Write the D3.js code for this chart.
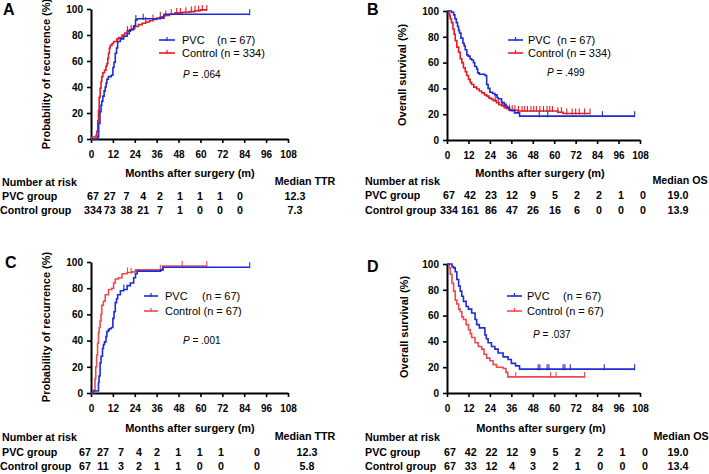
<!DOCTYPE html>
<html>
<head>
<meta charset="utf-8">
<script src="https://cdn.jsdelivr.net/npm/d3@7"></script>
<style>
  html, body { margin: 0; padding: 0; background: #fff; }
  svg { display: block; font-family: "Liberation Sans", Arial, sans-serif; }
</style>
</head>
<body>
<div id="chart"></div>
<script>
const monthTicks = [0, 12, 24, 36, 48, 60, 72, 84, 96, 108];
const pctTicks = [0, 20, 40, 60, 80, 100];

// Kaplan-Meier steps: [month, percent]
const pvcTTR_A = [[0,0],[3.7,1.5],[4.2,12],[4.9,21],[5.5,26],[5.9,29],[6.5,33],[7.2,37],[7.8,40],[8.3,43],[8.7,46],[9.5,48],[11.1,49],[12,55],[12.6,59],[13.3,66],[14,70],[14.6,75],[16.1,77],[17.9,79],[19.8,81],[21,83],[21.6,84],[23.4,87],[24.4,91.5],[25.3,92.5],[38,93],[40,96],[87,96]];
const ctrlTTR_A = [[0,0],[0.4,1.5],[2.8,3],[3.2,6],[3.7,14],[4.1,22],[4.5,32],[5,39],[5.5,44],[5.9,48],[6.5,51],[7.4,53],[8.2,56],[8.7,58],[9.2,62],[9.6,66],[10.1,70],[10.5,72],[11.5,73.5],[12.4,75],[14.2,77],[15.1,78],[17,80],[18.5,81.5],[19.8,83],[21,84],[22.5,85],[24,86.5],[26,88],[28,89],[30,90],[32,91],[34,92],[36,93],[38,94],[40,95],[43,96],[46,97],[50,97.5],[54,98],[57,98.7],[60,99.3],[63.5,99.3]];
const pvcOS_B = [[0,100],[2.5,99],[3.7,97],[4.4,94],[5.2,91],[5.9,88],[6.5,85],[7,83],[7.8,79],[8.9,75],[9.6,73],[10.2,70],[11.1,66],[11.8,65],[12.9,63],[13.8,62],[14.8,60],[15.5,57],[16.6,55],[17.2,52],[18.1,51],[21.2,50],[22.2,43],[23,40],[24,37],[25.5,36],[26.8,35],[28,33],[28.6,32],[30.5,29],[32,27],[33.2,26],[34,25],[35,23],[37.8,21],[40.6,18.5],[105,18.5]];
const ctrlOS_B = [[0,100],[0.9,98],[1.5,96],[1.8,94],[2.5,91],[3.3,86],[4,82],[4.6,77],[5.5,72],[6.5,68],[7.4,63],[8.3,60],[9.2,56],[10.2,53],[11,50],[12,47],[13,44.5],[13.8,43],[15,41],[16.6,39.5],[18,38],[19.4,36.5],[21,35],[22.2,34],[23.5,32.5],[24.9,31.5],[26,30.5],[27.7,29],[29,27.5],[30.5,26.5],[32,25],[33.2,24.5],[34.5,23.5],[36,23],[39.7,22.5],[62,21.5],[65,20.5],[80,20.5]];
const pvcTTR_C = [[0,0],[1.3,1.5],[4.1,8],[4.4,13],[5,23],[5.5,28],[6.3,34],[6.8,37],[7.4,39],[8.2,43],[8.7,47],[9.5,48],[10,49],[11.1,50],[12,57],[12.6,62],[13.3,69],[14,72],[14.6,75],[16.1,78],[17.9,79],[19.8,82],[21.6,84],[23.4,88],[24.4,91],[25.3,93],[38.2,94],[39.5,96],[87,96]];
const ctrlTTR_C = [[0,0],[1.3,2],[2.2,11],[2.6,20],[3.1,29],[3.6,38],[4.1,46],[4.5,50],[5,55],[5.5,60],[5.9,67],[6.8,70],[7.8,75],[9.6,79],[11.4,80],[12.4,84],[13.3,87],[15.1,88],[17,91],[19.8,92],[22.5,92.5],[24.4,94],[38.7,94],[39.2,97],[63.5,97]];
const pvcOS_D = [[0,100],[2.8,98],[3.7,97],[4.6,94],[5.5,88],[6.5,83],[7.4,79],[8.3,75],[9.2,71],[10.7,67],[12,65],[13.8,62],[15.7,57],[16.6,53],[18.1,50.5],[21.2,45],[22,42],[23,39],[24.9,36],[26.8,34],[28.6,31],[31.4,28],[34.2,26],[36,23],[38.4,21],[40.6,18.5],[105,18.5]];
const ctrlOS_D = [[0,100],[1.2,97],[1.8,92],[2.8,85],[3.7,79],[4.6,72],[5.5,69],[6.5,65],[7.4,63],[8.3,59],[9.2,57],[10.7,53],[12,49],[13,46],[13.8,43],[15.7,39],[17.5,36],[19.4,34],[20.7,30],[22.2,27],[24,25],[25.8,22],[27.7,20],[31.4,19],[33,16],[34,12.5],[77,12.5]];

// censored months
const pvcCens_A = [24.6, 28.6, 87];
const ctrlCens_A = [20, 22, 30, 34, 38, 41, 44, 47, 49, 52, 55, 57, 59, 61, 63.5];
const pvcCens_B = [51.6, 56.4, 87, 105];
const ctrlCens_B = [27, 29, 31, 33, 35, 36.5, 38, 40, 42, 43.5, 45, 47, 48.5, 50, 52, 54, 56, 57.5, 59, 62, 64, 67, 70, 72, 74, 77, 80];
const pvcCens_C = [18, 87];
const ctrlCens_C = [20, 22, 38, 50, 63.5];
const pvcCens_D = [51, 52, 56, 57, 65, 66, 69, 88, 105];
const ctrlCens_D = [38.5, 58, 61, 77];

// number at risk
const pvcRisk_A = [67, 27, 7, 4, 2, 1, 1, 1, 0];
const ctrlRisk_A = [334, 73, 38, 21, 7, 1, 0, 0, 0];
const pvcRisk_B = [67, 42, 23, 12, 9, 5, 2, 2, 1, 0];
const ctrlRisk_B = [334, 161, 86, 47, 26, 16, 6, 0, 0, 0];
const pvcRisk_C = [67, 27, 7, 4, 2, 1, 1, 1, 0];
const ctrlRisk_C = [67, 11, 3, 2, 1, 1, 0, 0, 0];
const pvcRisk_D = [67, 42, 22, 12, 9, 5, 2, 2, 1, 0];
const ctrlRisk_D = [67, 33, 12, 4, 3, 2, 1, 0, 0, 0];

const medians = { A: ['12.3', '7.3'], B: ['19.0', '13.9'], C: ['12.3', '5.8'], D: ['19.0', '13.4'] };
const pValues = { A: '.064', B: '.499', C: '.001', D: '.037' };
const ctrlN = { A: 334, B: 334, C: 67, D: 67 };

const BLUE = '#1f2bd3';
const RED_ALL = '#e31c24';
const RED_MATCH = '#ec4a50';
const FONT = '"Liberation Sans", Arial, sans-serif';

const W = 709, H = 474;

const panels = [
  { id: 'A', pvc: pvcTTR_A, ctrl: ctrlTTR_A, pvcC: pvcCens_A, ctrlC: ctrlCens_A, pvcR: pvcRisk_A, ctrlR: ctrlRisk_A,
    red: RED_ALL, ytitle: 'Probability of recurrence (%)', mlabel: 'Median TTR',
    box: { l: 91, r: 288, t: 9, b: 139 }, letter: [3, 15], ytx: [50, 74],
    leg: { x1: 159, x2: 175, y: [40, 53], tx: 182, nx: 217, px: 183, py: 78 },
    tab: { mx: 190, my: 177, lx: 2, hy: 186, rows: [200, 214], mhx: 305, mvx: 295,
           cd: [0, 4, 8], cr: [93, 160, 240] } },
  { id: 'B', pvc: pvcOS_B, ctrl: ctrlOS_B, pvcC: pvcCens_B, ctrlC: ctrlCens_B, pvcR: pvcRisk_B, ctrlR: ctrlRisk_B,
    red: RED_ALL, ytitle: 'Overall survival (%)', mlabel: 'Median OS',
    box: { l: 447, r: 640, t: 11, b: 140 }, letter: [367, 15], ytx: [406, 75],
    leg: { x1: 508, x2: 523, y: [40, 53], tx: 528, nx: 557, px: 547, py: 76 },
    tab: { mx: 540, my: 177, lx: 365, hy: 185, rows: [199, 214], mhx: 680, mvx: 678,
           cd: [0, 4, 9], cr: [449, 533, 643] } },
  { id: 'C', pvc: pvcTTR_C, ctrl: ctrlTTR_C, pvcC: pvcCens_C, ctrlC: ctrlCens_C, pvcR: pvcRisk_C, ctrlR: ctrlRisk_C,
    red: RED_MATCH, ytitle: 'Probability of recurrence (%)', mlabel: 'Median TTR',
    box: { l: 91, r: 288, t: 262, b: 393 }, letter: [5, 268], ytx: [50, 327],
    leg: { x1: 144, x2: 158, y: [296, 311], tx: 165, nx: 202, px: 183, py: 344 },
    tab: { mx: 190, my: 432, lx: 2, hy: 441, rows: [456, 470], mhx: 305, mvx: 307,
           cd: [0, 4, 7, 8], cr: [85, 157, 221, 257] } },
  { id: 'D', pvc: pvcOS_D, ctrl: ctrlOS_D, pvcC: pvcCens_D, ctrlC: ctrlCens_D, pvcR: pvcRisk_D, ctrlR: ctrlRisk_D,
    red: RED_MATCH, ytitle: 'Overall survival (%)', mlabel: 'Median OS',
    box: { l: 447, r: 640, t: 264, b: 393 }, letter: [367, 272], ytx: [408, 327],
    leg: { x1: 507, x2: 522, y: [296, 311], tx: 527, nx: 563, px: 533, py: 338 },
    tab: { mx: 541, my: 432, lx: 365, hy: 441, rows: [456, 470], mhx: 681, mvx: 678,
           cd: [0, 4, 9], cr: [450, 533, 645] } }
];

const svg = d3.select('#chart').append('svg').attr('width', W).attr('height', H);

function stepValue(steps, t) {
  const i = d3.bisector((d) => d[0]).right(steps, t) - 1;
  return steps[Math.max(0, i)][1];
}

panels.forEach((p) => {
  const g = svg.append('g').attr('class', 'panel-' + p.id);
  const x = d3.scaleLinear().domain([0, 108]).range([p.box.l, p.box.r]);
  const y = d3.scaleLinear().domain([0, 100]).range([p.box.b, p.box.t]);

  // panel letter
  g.append('text')
    .attr('x', p.letter[0]).attr('y', p.letter[1])
    .attr('font-size', 16).attr('font-weight', 'bold').attr('font-family', FONT)
    .text(p.id);

  // axes
  const xAxis = g.append('g').attr('transform', `translate(0,${p.box.b})`)
    .call(d3.axisBottom(x).tickValues(monthTicks).tickSize(4).tickSizeOuter(0).tickPadding(8));
  const yAxis = g.append('g').attr('transform', `translate(${p.box.l},0)`)
    .call(d3.axisLeft(y).tickValues(pctTicks).tickSize(4).tickSizeOuter(0).tickPadding(4));
  [xAxis, yAxis].forEach((ax) => {
    ax.select('.domain').attr('stroke', '#000').attr('stroke-width', 2);
    ax.selectAll('.tick line').attr('stroke', '#000').attr('stroke-width', 1.6);
    ax.selectAll('.tick text').attr('fill', '#000').attr('font-size', 10)
      .attr('font-weight', 'bold').attr('font-family', FONT);
  });

  // y title
  g.append('text')
    .attr('transform', `translate(${p.ytx[0]},${p.ytx[1]}) rotate(-90)`)
    .attr('text-anchor', 'middle')
    .attr('font-size', 11).attr('font-weight', 'bold').attr('font-family', FONT)
    .text(p.ytitle);

  // curves
  const line = d3.line().x((d) => x(d[0])).y((d) => y(d[1])).curve(d3.curveStepAfter);
  const series = [
    { steps: p.ctrl, cens: p.ctrlC, color: p.red },
    { steps: p.pvc, cens: p.pvcC, color: BLUE }
  ];
  series.forEach((s) => {
    g.append('path').datum(s.steps)
      .attr('d', line).attr('fill', 'none')
      .attr('stroke', s.color).attr('stroke-width', 1.6);
    g.selectAll(null).data(s.cens).join('line')
      .attr('x1', (d) => x(d)).attr('x2', (d) => x(d))
      .attr('y1', (d) => y(stepValue(s.steps, d)) - 5)
      .attr('y2', (d) => y(stepValue(s.steps, d)) + 1)
      .attr('stroke', s.color).attr('stroke-width', 1.1);
  });

  // legend
  const legItems = [
    { color: BLUE, label: 'PVC', n: '(n = 67)' },
    { color: p.red, label: `Control (n = ${ctrlN[p.id]})`, n: null }
  ];
  legItems.forEach((it, i) => {
    const ly = p.leg.y[i];
    g.append('line').attr('x1', p.leg.x1).attr('x2', p.leg.x2).attr('y1', ly).attr('y2', ly)
      .attr('stroke', it.color).attr('stroke-width', 1.6);
    const mx = (p.leg.x1 + p.leg.x2) / 2;
    g.append('line').attr('x1', mx).attr('x2', mx).attr('y1', ly - 3).attr('y2', ly + 1)
      .attr('stroke', it.color).attr('stroke-width', 1.2);
    g.append('text').attr('x', p.leg.tx).attr('y', ly + 4)
      .attr('font-size', 11).attr('font-family', FONT).text(it.label);
    if (it.n) {
      g.append('text').attr('x', p.leg.nx).attr('y', ly + 4)
        .attr('font-size', 11).attr('font-family', FONT).text(it.n);
    }
  });
  const pt = g.append('text').attr('x', p.leg.px).attr('y', p.leg.py)
    .attr('font-size', 10).attr('font-family', FONT);
  pt.append('tspan').attr('font-style', 'italic').text('P');
  pt.append('tspan').text(' = ' + pValues[p.id]);

  // risk table
  const t = p.tab;
  const bold = (sel, fs = 10.7) => sel.attr('font-size', fs).attr('font-weight', 'bold').attr('font-family', FONT);
  bold(g.append('text'), 11).attr('x', t.mx).attr('y', t.my).attr('text-anchor', 'middle').text('Months after surgery (m)');
  bold(g.append('text')).attr('x', t.lx).attr('y', t.hy).text('Number at risk');
  bold(g.append('text')).attr('x', t.mhx).attr('y', t.hy - 1).attr('text-anchor', 'middle').text(p.mlabel);

  const col = d3.scaleLinear().domain(t.cd).range(t.cr);
  const rows = [
    { name: 'PVC group', vals: p.pvcR, lx: t.lx, med: medians[p.id][0] },
    { name: 'Control group', vals: p.ctrlR, lx: t.lx === 2 ? 0 : t.lx, med: medians[p.id][1] }
  ];
  rows.forEach((r, i) => {
    const ry = t.rows[i];
    bold(g.append('text')).attr('x', r.lx).attr('y', ry).text(r.name);
    bold(g.selectAll(null).data(r.vals).join('text'))
      .attr('x', (d, k) => col(k)).attr('y', ry).attr('text-anchor', 'middle')
      .text((d) => d);
    bold(g.append('text')).attr('x', t.mvx).attr('y', ry).attr('text-anchor', 'middle').text(r.med);
  });
});
</script>
</body>
</html>
